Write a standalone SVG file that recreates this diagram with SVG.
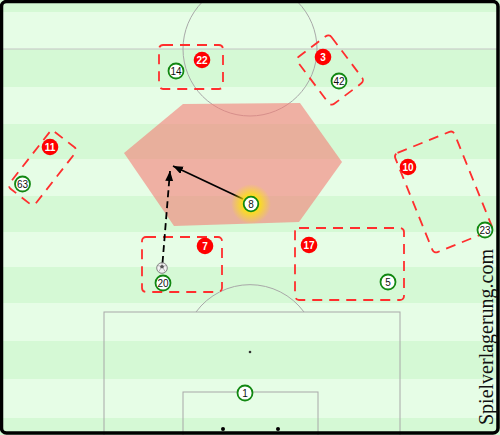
<svg xmlns="http://www.w3.org/2000/svg" width="500" height="435" viewBox="0 0 500 435">
<style>
.lt{fill:#e6fde6}
.dk{fill:#d5f9d5}
.pl{fill:none;stroke:#a8a8a8;stroke-width:1}
.box{fill:none;stroke:#ff2e2e;stroke-width:1.8;stroke-dasharray:10 7}
.pw{fill:#ffffff;stroke:#118811;stroke-width:1.8}
.pr{fill:#ff0000}
.tw{font-family:"Liberation Sans",Arial,sans-serif;font-size:10px;fill:#111;text-anchor:middle}
.tr{font-family:"Liberation Sans",Arial,sans-serif;font-size:10px;font-weight:bold;fill:#fff;text-anchor:middle}
.arr{fill:none;stroke:#000;stroke-width:1.8}
</style>
<defs>
<marker id="ah" markerUnits="userSpaceOnUse" markerWidth="11" markerHeight="9" refX="10" refY="4" orient="auto">
<path d="M0,0 L10,4 L0,8 Z" fill="#000"/>
</marker>
<radialGradient id="glow">
<stop offset="0" stop-color="#ffe800" stop-opacity="1"/>
<stop offset="0.45" stop-color="#ffe800" stop-opacity="0.75"/>
<stop offset="1" stop-color="#ffe800" stop-opacity="0"/>
</radialGradient>
</defs>
<g id="pitch">
<rect x="0" y="0" width="500" height="435" class="lt"/>
<rect x="0" y="0" width="500" height="12" class="dk"/>
<rect x="0" y="49" width="500" height="38" class="dk"/>
<rect x="0" y="124" width="500" height="35" class="dk"/>
<rect x="0" y="196" width="500" height="36" class="dk"/>
<rect x="0" y="267" width="500" height="36" class="dk"/>
<rect x="0" y="341" width="500" height="38" class="dk"/>
<rect x="0" y="418" width="500" height="17" class="dk"/>
<line x1="3" y1="49" x2="497" y2="49" stroke="#c4c4c4" stroke-width="1"/>
<circle cx="250" cy="49" r="67" class="pl" stroke="#b0b0b0"/>
<rect x="104" y="312" width="296" height="125" class="pl"/>
<rect x="183" y="392" width="135" height="45" class="pl"/>
<path d="M196,312 A67,67 0 0 1 304,312" class="pl"/>
<circle cx="250" cy="352" r="1.3" fill="#333"/>
<circle cx="223" cy="429" r="2" fill="#000"/>
<circle cx="278" cy="429" r="2" fill="#000"/>
<rect x="1.5" y="1.5" width="496.5" height="431.5" rx="5" fill="none" stroke="#000" stroke-width="3.5"/>
</g>
<g id="zone">
<polygon points="124,153 183,104 300,103 342,162 299,222 174,226" fill="#f57d76" fill-opacity="0.6"/>
</g>
<g id="boxes">
<rect x="159" y="45" width="64" height="44" rx="4" class="box"/>
<rect x="-29.5" y="-21" width="59" height="42" rx="4" class="box" transform="translate(330,70) rotate(53)"/>
<rect x="-16.5" y="-36" width="33" height="72" rx="4" class="box" transform="translate(42.5,168) rotate(38)"/>
<rect x="-32" y="-53.5" width="64" height="107" rx="4" class="box" transform="translate(443.5,192) rotate(-22)"/>
<rect x="142" y="237" width="80" height="55" rx="4" class="box"/>
<rect x="295" y="228" width="109" height="72" rx="4" class="box"/>
</g>
<g id="connectors">
<line x1="243" y1="199" x2="173" y2="166" class="arr" marker-end="url(#ah)"/>
<line x1="162.5" y1="263" x2="170" y2="171" class="arr" stroke-dasharray="7 4" marker-end="url(#ah)"/>
</g>
<g id="ball">
<circle cx="162" cy="268" r="5.3" fill="#f2f2f2" stroke="#777" stroke-width="0.9"/>
<path d="M160,266 L162,264.8 L164,266 L163.3,268.2 L160.7,268.2 Z" fill="#555"/>
<path d="M162,264.8 L162,262.8 M164,266 L166.8,265.5 M160,266 L157.2,265.5 M163.3,268.2 L165,271.5 M160.7,268.2 L159,271.5" stroke="#888" stroke-width="0.6"/>
</g>
<g id="n14"><circle cx="176" cy="71" r="7.5" class="pw"/><text x="176" y="74.6" class="tw">14</text></g>
<g id="n22"><circle cx="202" cy="60" r="8.3" class="pr"/><text x="202" y="63.6" class="tr">22</text></g>
<g id="n3"><circle cx="323" cy="57" r="8.3" class="pr"/><text x="323" y="60.6" class="tr">3</text></g>
<g id="n42"><circle cx="339" cy="81" r="7.5" class="pw"/><text x="339" y="84.6" class="tw">42</text></g>
<g id="n11"><circle cx="50" cy="147" r="8.3" class="pr"/><text x="50" y="150.6" class="tr">11</text></g>
<g id="n63"><circle cx="22.5" cy="184" r="7.5" class="pw"/><text x="22.5" y="187.6" class="tw">63</text></g>
<g id="n8"><circle cx="251" cy="204" r="20" fill="url(#glow)"/><circle cx="251" cy="204" r="7.3" class="pw"/><text x="251" y="207.6" class="tw">8</text></g>
<g id="n10"><circle cx="408" cy="167" r="8.3" class="pr"/><text x="408" y="170.6" class="tr">10</text></g>
<g id="n23"><circle cx="485" cy="230" r="7.5" class="pw"/><text x="485" y="233.6" class="tw">23</text></g>
<g id="n7"><circle cx="205" cy="246" r="8.3" class="pr"/><text x="205" y="249.6" class="tr">7</text></g>
<g id="n20"><circle cx="163" cy="283" r="7.5" class="pw"/><text x="163" y="286.6" class="tw">20</text></g>
<g id="n17"><circle cx="309" cy="245" r="8.3" class="pr"/><text x="309" y="248.6" class="tr">17</text></g>
<g id="n5"><circle cx="388" cy="282" r="7.5" class="pw"/><text x="388" y="285.6" class="tw">5</text></g>
<g id="n1"><circle cx="245" cy="393" r="7.5" class="pw"/><text x="245" y="396.6" class="tw">1</text></g>
<text x="0" y="0" transform="translate(493,425) rotate(-90)" font-family="'Liberation Serif','Times New Roman',serif" font-size="20" fill="#111">Spielverlagerung.com</text>
</svg>
